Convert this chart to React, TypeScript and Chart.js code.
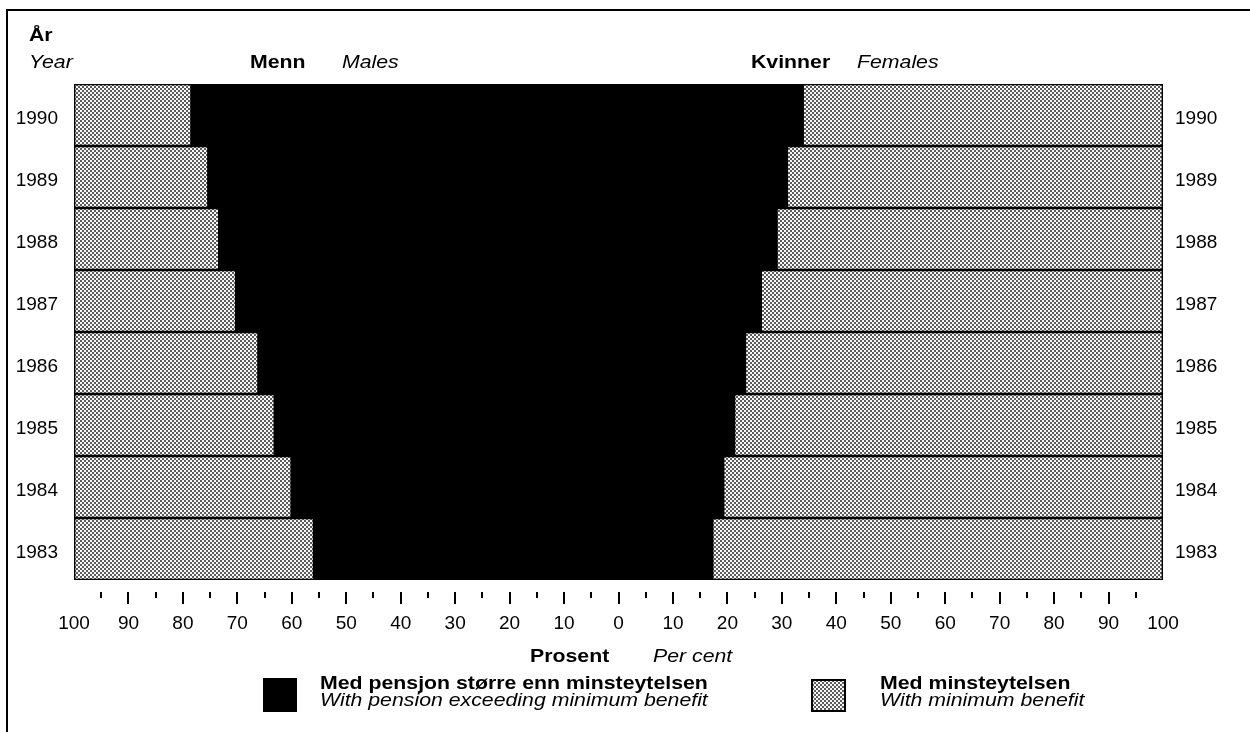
import React, { useEffect, useRef } from "react";
import { Chart, registerables } from "chart.js";

Chart.register(...registerables);

// ---- Data (per cent) ----
const years = ["1990", "1989", "1988", "1987", "1986", "1985", "1984", "1983"];
const malesExceeding = [78.4, 75.3, 73.3, 70.2, 66.1, 63.1, 60.0, 55.9];
const malesMinimum = [21.6, 24.7, 26.7, 29.8, 33.9, 36.9, 40.0, 44.1];
const femalesExceeding = [33.8, 30.9, 29.0, 26.1, 23.2, 21.2, 19.2, 17.2];
const femalesMinimum = [66.2, 69.1, 71.0, 73.9, 76.8, 78.8, 80.8, 82.8];

const axisMin = -100;
const axisMax = 100;
const majorStep = 10;
const minorStep = 5;

const FONT = "'Liberation Sans', Arial, Helvetica, sans-serif";

function makePattern(): CanvasPattern | string {
  const p = document.createElement("canvas");
  p.width = 4;
  p.height = 4;
  const c = p.getContext("2d");
  if (!c) return "#b4b4b4";
  c.fillStyle = "#f8f8f8";
  c.fillRect(0, 0, 4, 4);
  c.fillStyle = "#5c5c5c";
  c.fillRect(0, 0, 2, 2);
  c.fillRect(2, 2, 2, 2);
  const pat = c.createPattern(p, "repeat");
  return pat || "#b4b4b4";
}

const Txt = ({ x, base, fs, bold, italic, sx, children }: any) => (
  <div
    style={{
      position: "absolute",
      left: x,
      top: base - 0.8465 * fs,
      fontFamily: FONT,
      fontSize: fs,
      lineHeight: `${fs}px`,
      fontWeight: bold ? 700 : 400,
      fontStyle: italic ? "italic" : "normal",
      color: "#000",
      whiteSpace: "nowrap",
      transform: `scaleX(${sx || 1.12})`,
      transformOrigin: "0 0",
    }}
  >
    {children}
  </div>
);

export default function App() {
  const ref = useRef<HTMLCanvasElement | null>(null);

  useEffect(() => {
    if (!ref.current) return;
    const pattern = makePattern();

    const tickMarks = {
      id: "tickMarks",
      afterDraw(chart: any) {
        const sx = chart.scales.x;
        const ctx = chart.ctx;
        const y0 = chart.chartArea.bottom + 12;
        ctx.save();
        ctx.fillStyle = "#000";
        for (let v = axisMin + minorStep; v < axisMax; v += minorStep) {
          const px = sx.getPixelForValue(v);
          const major = v % majorStep === 0;
          ctx.fillRect(Math.round(px) - 1, y0, 2, major ? 12 : 6);
        }
        ctx.restore();
      },
    };

    const legendSwatches = {
      id: "legendSwatches",
      afterDraw(chart: any) {
        const ctx = chart.ctx;
        ctx.save();
        ctx.fillStyle = "#000";
        ctx.fillRect(263, 678, 34, 34);
        ctx.fillStyle = pattern;
        ctx.fillRect(811, 679, 35, 33);
        ctx.strokeStyle = "#000";
        ctx.lineWidth = 2;
        ctx.strokeRect(812, 680, 33, 31);
        ctx.restore();
      },
    };

    const common = {
      grouped: false,
      barPercentage: 1,
      categoryPercentage: 1,
      borderSkipped: false,
    };

    const chart = new Chart(ref.current, {
      type: "bar",
      data: {
        labels: years,
        datasets: [
          {
            label: "Menn: med minsteytelsen",
            data: malesMinimum.map((m, i) => [-(malesExceeding[i] + m), -malesExceeding[i]]),
            backgroundColor: pattern as any,
            borderColor: "#000",
            borderWidth: 1.7,
            ...common,
          },
          {
            label: "Kvinner: med minsteytelsen",
            data: femalesMinimum.map((m, i) => [femalesExceeding[i], femalesExceeding[i] + m]),
            backgroundColor: pattern as any,
            borderColor: "#000",
            borderWidth: 1.7,
            ...common,
          },
          {
            label: "Med pensjon større enn minsteytelsen (menn | kvinner)",
            data: malesExceeding.map((v, i) => [-v, femalesExceeding[i]]),
            backgroundColor: "#000",
            borderWidth: 0,
            inflateAmount: 1,
            ...common,
          },
        ] as any,
      },
      options: {
        indexAxis: "y",
        responsive: false,
        animation: false,
        layout: { padding: { top: 84, left: 0, right: 0, bottom: 0 } },
        plugins: {
          legend: { display: false },
          tooltip: { enabled: false },
          title: { display: false },
        },
        scales: {
          x: {
            type: "linear",
            min: axisMin,
            max: axisMax,
            grid: { display: false, drawTicks: false },
            border: { display: false },
            ticks: {
              stepSize: majorStep,
              autoSkip: false,
              maxRotation: 0,
              padding: 32,
              color: "#000",
              font: { family: FONT, size: 19 },
              callback: (v: any) => String(Math.abs(Number(v))),
            },
            afterFit(s: any) {
              s.height = 152;
            },
          },
          y: {
            type: "category",
            position: "left",
            grid: { display: false, drawTicks: false },
            border: { display: false },
            ticks: {
              padding: 16,
              labelOffset: 4,
              color: "#000",
              font: { family: FONT, size: 19 },
            },
            afterFit(s: any) {
              s.width = 74;
            },
          },
          y2: {
            type: "category",
            axis: "y",
            position: "right",
            labels: years,
            offset: true,
            grid: { display: false, drawTicks: false },
            border: { display: false },
            ticks: {
              padding: 12,
              labelOffset: 4,
              color: "#000",
              font: { family: FONT, size: 19 },
            },
            afterFit(s: any) {
              s.width = 87;
            },
          },
        },
      } as any,
      plugins: [tickMarks, legendSwatches],
    });

    return () => chart.destroy();
  }, []);

  return (
    <div
      style={{
        position: "absolute",
        left: 0,
        top: 0,
        width: 1250,
        height: 732,
        overflow: "hidden",
        background: "#fff",
      }}
    >
      <div
        style={{
          position: "absolute",
          left: 6,
          top: 9,
          width: 1300,
          height: 800,
          borderLeft: "2px solid #000",
          borderTop: "2px solid #000",
        }}
      />
      <canvas
        ref={ref}
        width={1250}
        height={732}
        style={{ position: "absolute", left: 0, top: 0, display: "block" }}
      />
      <Txt x={29} base={41} fs={19} bold>
        År
      </Txt>
      <Txt x={29} base={68} fs={19} italic>
        Year
      </Txt>
      <Txt x={250} base={68} fs={19} bold>
        Menn
      </Txt>
      <Txt x={342} base={68} fs={19} italic>
        Males
      </Txt>
      <Txt x={751} base={68} fs={19} bold>
        Kvinner
      </Txt>
      <Txt x={857} base={68} fs={19} italic>
        Females
      </Txt>
      <Txt x={530} base={662} fs={19} bold>
        Prosent
      </Txt>
      <Txt x={653} base={662} fs={19} italic>
        Per cent
      </Txt>
      <Txt x={320} base={689} fs={19} bold>
        Med pensjon større enn minsteytelsen
      </Txt>
      <Txt x={320} base={706} fs={19} italic>
        With pension exceeding minimum benefit
      </Txt>
      <Txt x={880} base={689} fs={19} bold>
        Med minsteytelsen
      </Txt>
      <Txt x={880} base={706} fs={19} italic>
        With minimum benefit
      </Txt>
    </div>
  );
}
